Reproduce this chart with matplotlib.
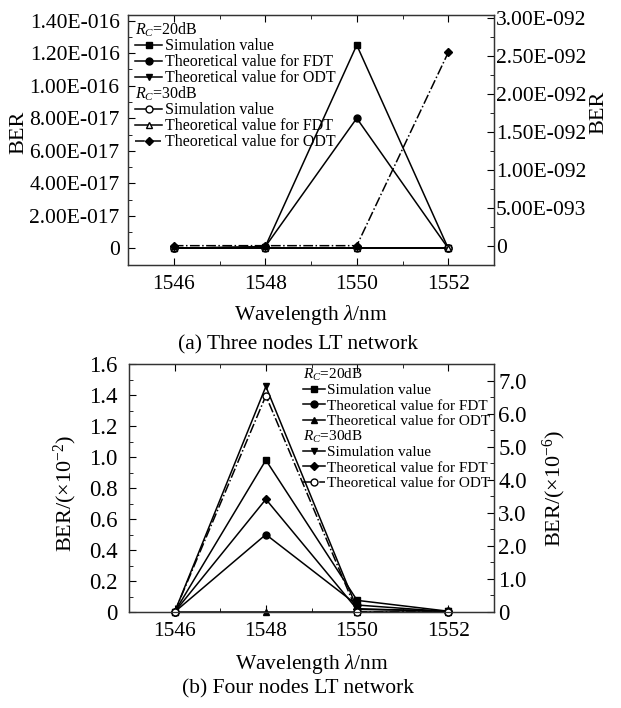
import matplotlib
matplotlib.use('Agg')
import matplotlib.pyplot as plt
from matplotlib.lines import Line2D
from matplotlib.ticker import MultipleLocator

plt.rcParams['font.family'] = ['Liberation Serif', 'DejaVu Serif']
plt.rcParams['mathtext.fontset'] = 'custom'
plt.rcParams['mathtext.rm'] = 'Liberation Serif'
plt.rcParams['mathtext.it'] = 'Liberation Serif:italic'
plt.rcParams['mathtext.bf'] = 'Liberation Serif:bold'

wavelength = [1546, 1548, 1550, 1552]
x_ticks = [1546, 1548, 1550, 1552]

# (a) Three nodes LT network
a_sim20 = [0, 1.0e-18, 1.25e-16, 0]
a_fdt20 = [0, 1.0e-18, 8.0e-17, 0]
a_odt20 = [0, 0, 0, 0]
a_sim30 = [0, 0, 0, 0]
a_fdt30 = [0, 0, 0, 0]
a_odt30 = [0, 0, 0, 2.55e-92]          # right axis
a_left_ticks = [0, 2e-17, 4e-17, 6e-17, 8e-17, 1e-16, 1.2e-16, 1.4e-16]
a_left_labels = ['0', '2.00E-017', '4.00E-017', '6.00E-017', '8.00E-017',
                 '1.00E-016', '1.20E-016', '1.40E-016']
a_right_ticks = [0, 5e-93, 1e-92, 1.5e-92, 2e-92, 2.5e-92, 3e-92]
a_right_labels = ['0', '5.00E-093', '1.00E-092', '1.50E-092', '2.00E-092',
                  '2.50E-092', '3.00E-092']

# (b) Four nodes LT network
b_sim20 = [0, 0.98, 0.075, 0.005]       # left axis, x10^-2
b_fdt20 = [0, 0.50, 0.045, 0.002]
b_odt20 = [0, 0, 0, 0]
b_sim30 = [0, 6.82, 0.10, 0.02]         # right axis, x10^-6
b_fdt30 = [0, 3.41, 0.08, 0.03]
b_odt30 = [0, 6.54, 0.0, 0.0]
b_left_ticks = [0, 0.2, 0.4, 0.6, 0.8, 1.0, 1.2, 1.4, 1.6]
b_left_labels = ['0', '0.2', '0.4', '0.6', '0.8', '1.0', '1.2', '1.4', '1.6']
b_right_ticks = [0, 1, 2, 3, 4, 5, 6, 7]
b_right_labels = ['0', '1.0', '2.0', '3.0', '4.0', '5.0', '6.0', '7.0']

labels = ['Simulation value', 'Theoretical value for FDT', 'Theoretical value for ODT']
hdr20 = r'$R_C$=20dB'
hdr30 = r'$R_C$=30dB'

W, H = 621, 708
fig = plt.figure(figsize=(W/100, H/100), dpi=100)

def frac(l, t, r, b):
    return [l/W, 1-b/H, (r-l)/W, (b-t)/H]

TICK_FS = 15.5
LEG_FS_A = 11.5
LEG_FS_B = 11.0
LW = 1.1
MS = 5

def style(ax, ax2):
    for a in (ax, ax2):
        for s in a.spines.values():
            s.set_linewidth(0.9)
            s.set_color('#333333')
    ax.tick_params(axis='x', which='both', direction='in', top=True, labelsize=TICK_FS, pad=7)
    ax.tick_params(axis='x', which='major', length=5)
    ax.tick_params(axis='x', which='minor', length=3)
    ax.tick_params(axis='y', which='both', direction='in', right=False, labelsize=TICK_FS)
    ax.tick_params(axis='y', which='major', length=5)
    ax.tick_params(axis='y', which='minor', length=3)
    ax2.tick_params(axis='y', which='both', direction='in', labelsize=TICK_FS)
    ax2.tick_params(axis='y', which='major', length=5)
    ax2.tick_params(axis='y', which='minor', length=3)
    ax.set_xlim(1545, 1553)
    ax.set_xticks(x_ticks)
    ax.xaxis.set_minor_locator(MultipleLocator(1))

# ---------------- panel (a) ----------------
axA = fig.add_axes(frac(128, 15, 494, 265))
axA2 = axA.twinx()
style(axA, axA2)
axA.set_ylim(-1.025e-17, 1.435e-16)
axA2.set_ylim(-2.55e-93, 3.044e-92)
axA.set_yticks(a_left_ticks, a_left_labels)
axA2.set_yticks(a_right_ticks, a_right_labels)
axA.tick_params(axis='y', pad=6)
axA2.tick_params(axis='y', pad=1.5)
axA.yaxis.set_minor_locator(MultipleLocator(1e-17))
axA2.yaxis.set_minor_locator(MultipleLocator(2.5e-93))

k = dict(color='black', lw=LW, ms=MS, clip_on=False)
lA1, = axA.plot(wavelength, a_sim20, marker='s', ls='-', **k)
lA2, = axA.plot(wavelength, a_fdt20, marker='o', ls='-', **k)
lA3, = axA.plot(wavelength, a_odt20, marker='v', ls='-', **k)
lA4, = axA.plot(wavelength, a_sim30, marker='o', mfc='white', ls='-', **k)
lA5, = axA.plot(wavelength, a_fdt30, marker='^', mfc='white', ls='-', **k)
lA6, = axA2.plot(wavelength, a_odt30, marker='D', ms=4.5, ls='-.', color='black', lw=LW, clip_on=False)

axA.set_xlabel(r'Wavelength $\lambda$/nm', fontsize=15.5)
axA.xaxis.set_label_coords(0.5, -0.152)
axA.set_ylabel('BER', fontsize=16)
axA.yaxis.set_label_coords(-0.272, 0.53)
axA2.set_ylabel('BER', fontsize=16)
axA2.yaxis.set_label_coords(1.26, 0.61)

blank = Line2D([], [], ls='none')
hA = [blank, lA1, lA2, lA3, blank, lA4, lA5, lA6]
tA = [' ', labels[0], labels[1], labels[2], ' ', labels[0], labels[1], labels[2]]
legA = axA.legend(hA, tA, loc='upper left', bbox_to_anchor=(0.0, 1.0),
                  frameon=False, fontsize=LEG_FS_A, handlelength=1.7, handletextpad=0.15,
                  labelspacing=0.0, borderpad=0.25, borderaxespad=0.2)

# ---------------- panel (b) ----------------
axB = fig.add_axes(frac(129, 364, 494, 612))
axB2 = axB.twinx()
style(axB, axB2)
axB.set_ylim(0, 1.6)
axB2.set_ylim(0, 7.5)
axB.set_yticks(b_left_ticks, b_left_labels)
axB2.set_yticks(b_right_ticks, b_right_labels)
axB.tick_params(axis='y', labelsize=16.5, pad=8)
axB2.tick_params(axis='y', labelsize=16.5, pad=3)
axB.yaxis.set_minor_locator(MultipleLocator(0.1))
axB2.yaxis.set_minor_locator(MultipleLocator(0.5))

lB1, = axB.plot(wavelength, b_sim20, marker='s', ls='-', **k)
lB2, = axB.plot(wavelength, b_fdt20, marker='o', ls='-', **k)
lB3, = axB.plot(wavelength, b_odt20, marker='^', ls='-', **k)
lB4, = axB2.plot(wavelength, b_sim30, marker='v', ls='-', **k)
lB5, = axB2.plot(wavelength, b_fdt30, marker='D', ms=4.5, ls='-', color='black', lw=LW, clip_on=False)
lB6, = axB2.plot(wavelength, b_odt30, marker='o', mfc='white', ls='-.', **k)

axB.set_xlabel(r'Wavelength $\lambda$/nm', fontsize=15.5)
axB.xaxis.set_label_coords(0.5, -0.16)
axB.set_ylabel(r'BER/($\times$10$^{-2}$)', fontsize=16)
axB.yaxis.set_label_coords(-0.136, 0.48)
axB2.set_ylabel(r'BER/($\times$10$^{-6}$)', fontsize=16)
axB2.yaxis.set_label_coords(1.129, 0.50)

hB = [blank, lB1, lB2, lB3, blank, lB4, lB5, lB6]
legB = axB2.legend(hB, tA, loc='upper right', bbox_to_anchor=(1.0, 1.0),
                   frameon=False, fontsize=LEG_FS_B, handlelength=1.4, handletextpad=0.15,
                   labelspacing=0.12, borderpad=0.25, borderaxespad=0.0)

fig.text(298/W, 1-345/H, '(a) Three nodes LT network', ha='center', va='center', fontsize=15.5)
fig.text(298/W, 1-689/H, '(b) Four nodes LT network', ha='center', va='center', fontsize=15.5)

# place the group headers in the blank legend rows
fig.canvas.draw()
for leg, fs in ((legA, LEG_FS_A), (legB, LEG_FS_B)):
    lb = leg.get_window_extent()
    texts = leg.get_texts()
    for idx, hdr in ((0, hdr20), (4, hdr30)):
        bb = texts[idx].get_window_extent()
        yc = (bb.y0 + bb.y1) / 2
        x0 = lb.x0 + 0.25 * fs * 100 / 72
        fig.text(x0 / W, yc / H, hdr, ha='left', va='center', fontsize=fs)

fig.savefig('out.png', dpi=100)
